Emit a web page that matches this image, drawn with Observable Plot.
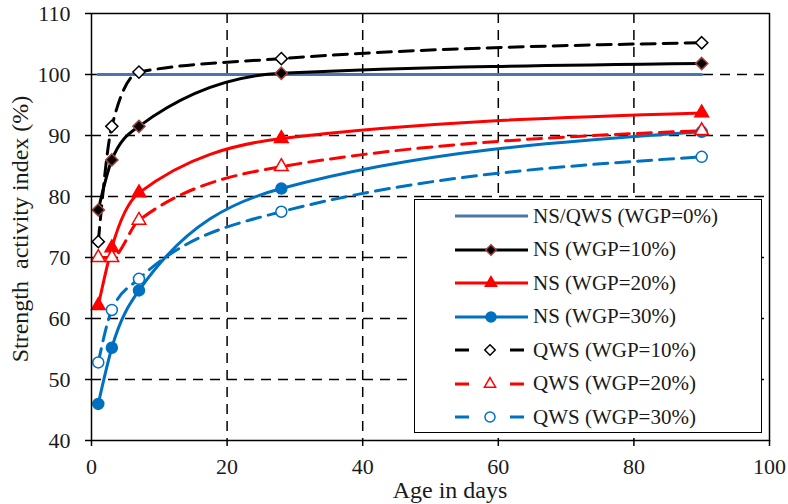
<!DOCTYPE html>
<html><head><meta charset="utf-8">
<script src="https://cdn.jsdelivr.net/npm/d3@7"></script>
<script src="https://cdn.jsdelivr.net/npm/@observablehq/plot@0.6"></script>
<style>
body{margin:0;background:#fff;}
#wrap{position:relative;width:788px;height:504px;font-family:"Times New Roman","Liberation Serif",Tinos,serif;color:#1a1a1a;}
#legend{position:absolute;left:414px;top:199px;width:348px;height:234px;background:#fff;border:1.5px solid #000;box-sizing:border-box;}
.item{position:absolute;left:40px;height:24px;display:flex;align-items:center;font-size:21px;white-space:nowrap;}
.item svg{margin-right:5px;flex:none;}
#xtitle{position:absolute;left:450px;top:481px;transform:translateX(-50%);font-size:24px;white-space:nowrap;line-height:18px;}
#ytitle{position:absolute;left:20px;top:229px;transform:translate(-50%,-50%) rotate(-90deg);font-size:24px;white-space:pre;line-height:26px;}
</style></head>
<body>
<div id="wrap"><div id="chart"></div><div id="legend"></div><div id="xtitle"></div><div id="ytitle"></div></div>
<script>
const days = [1, 3, 7, 28, 90];
const refDays = [1, 90];
const ref0 = [100, 100];
const ns10 = [77.8, 86.0, 91.5, 100.2, 101.8];
const qws10 = [72.6, 91.5, 100.4, 102.6, 105.2];
const ns20 = [62.1, 71.6, 80.6, 89.5, 93.7];
const qws20 = [70.0, 70.0, 76.1, 84.9, 90.8];
const ns30 = [46.0, 55.2, 64.6, 81.3, 90.6];
const qws30 = [52.8, 61.4, 66.5, 77.5, 86.5];
const seriesNames = ["NS/QWS (WGP=0%)", "NS (WGP=10%)", "NS (WGP=20%)", "NS (WGP=30%)", "QWS (WGP=10%)", "QWS (WGP=20%)", "QWS (WGP=30%)"];
const xTicks = [0, 20, 40, 60, 80, 100];
const yTicks = [40, 50, 60, 70, 80, 90, 100, 110];
const xTitle = "Age in days";
const yTitle = "Strength  activity index (%)";

const FONT = '"Times New Roman","Liberation Serif",Tinos,serif';
const BLUE0 = "#4a76ac", RED = "#ff0000", BLUE = "#0070c0";
const styles = [
  {vals: ref0, x: refDays, color: BLUE0, dash: null, symbol: null},
  {vals: ns10, x: days, color: "#000", dash: null, symbol: "diamond2", fill: "#000", mstroke: "#a04040", r: 5.5},
  {vals: ns20, x: days, color: RED, dash: null, symbol: "triangle2", fill: RED, mstroke: RED, r: 6.5},
  {vals: ns30, x: days, color: BLUE, dash: null, symbol: "circle", fill: BLUE, mstroke: BLUE, r: 5.5},
  {vals: qws10, x: days, color: "#000", dash: "14,8", symbol: "diamond2", fill: "#fff", mstroke: "#000", r: 5.5},
  {vals: qws20, x: days, color: RED, dash: "14,8", symbol: "triangle2", fill: "#fff", mstroke: RED, r: 6.5},
  {vals: qws30, x: days, color: BLUE, dash: "14,8", symbol: "circle", fill: "#fff", mstroke: BLUE, r: 5.5}
];

const marks = [
  Plot.gridX([20, 40, 60, 80], {stroke: "#000", strokeOpacity: 1, strokeWidth: 1.5, strokeDasharray: "10,7"}),
  Plot.gridY([50, 60, 70, 80, 90, 100], {stroke: "#000", strokeOpacity: 1, strokeWidth: 1.5, strokeDasharray: "10,7"})
];
styles.forEach((s, i) => {
  const data = s.x.map((d, j) => ({day: d, v: s.vals[j], name: seriesNames[i]}));
  s.data = data;
  marks.push(Plot.line(data, {x: "day", y: "v", stroke: s.color, strokeWidth: 3, strokeDasharray: s.dash, curve: "monotone-x"}));
});
styles.forEach(s => {
  if (s.symbol) marks.push(Plot.dot(s.data, {x: "day", y: "v", symbol: s.symbol, r: s.r, fill: s.fill, stroke: s.mstroke, strokeWidth: 1.5}));
});
marks.push(Plot.frame({stroke: "#000", strokeWidth: 1.5}));
marks.push(Plot.axisX({ticks: xTicks, tickSize: 6, tickPadding: 12, tickFormat: d => d, label: null, strokeWidth: 1.5, fill: "#1a1a1a"}));
marks.push(Plot.axisY({ticks: yTicks, tickSize: 6, tickPadding: 15, tickFormat: d => d, label: null, strokeWidth: 1.5, fill: "#1a1a1a"}));

const chart = Plot.plot({
  width: 788, height: 504,
  marginLeft: 91, marginRight: 19, marginTop: 13, marginBottom: 64,
  x: {domain: [0, 100]},
  y: {domain: [40, 110]},
  style: {fontFamily: FONT, fontSize: "22px", color: "#000", background: "#fff", overflow: "visible"},
  marks
});
document.getElementById("chart").appendChild(chart);
document.getElementById("xtitle").textContent = xTitle;
document.getElementById("ytitle").textContent = yTitle;

// Legend
const legend = document.getElementById("legend");
const symPath = {
  diamond2: d3.symbol(d3.symbolDiamond2, 70)(),
  triangle2: d3.symbol(d3.symbolTriangle2, 90)(),
  circle: d3.symbol(d3.symbolCircle, 80)()
};
styles.forEach((s, i) => {
  const div = document.createElement("div");
  div.className = "item";
  div.style.top = (4 + i * 33.5) + "px";
  const dashed = !!s.dash;
  let svg = `<svg width="73" height="20" viewBox="0 0 73 20">`;
  if (dashed) {
    svg += `<line x1="0" y1="10" x2="73" y2="10" stroke="${s.color}" stroke-width="3" stroke-dasharray="14,41"/>`;
  } else {
    svg += `<line x1="0" y1="10" x2="73" y2="10" stroke="${s.color}" stroke-width="3"/>`;
  }
  if (s.symbol) {
    svg += `<path transform="translate(${dashed ? 35 : 36},10)" d="${symPath[s.symbol]}" fill="${s.fill}" stroke="${s.mstroke}" stroke-width="1.5"/>`;
  }
  svg += `</svg>`;
  div.innerHTML = svg + `<span>${seriesNames[i]}</span>`;
  legend.appendChild(div);
});
</script>
</body></html>
